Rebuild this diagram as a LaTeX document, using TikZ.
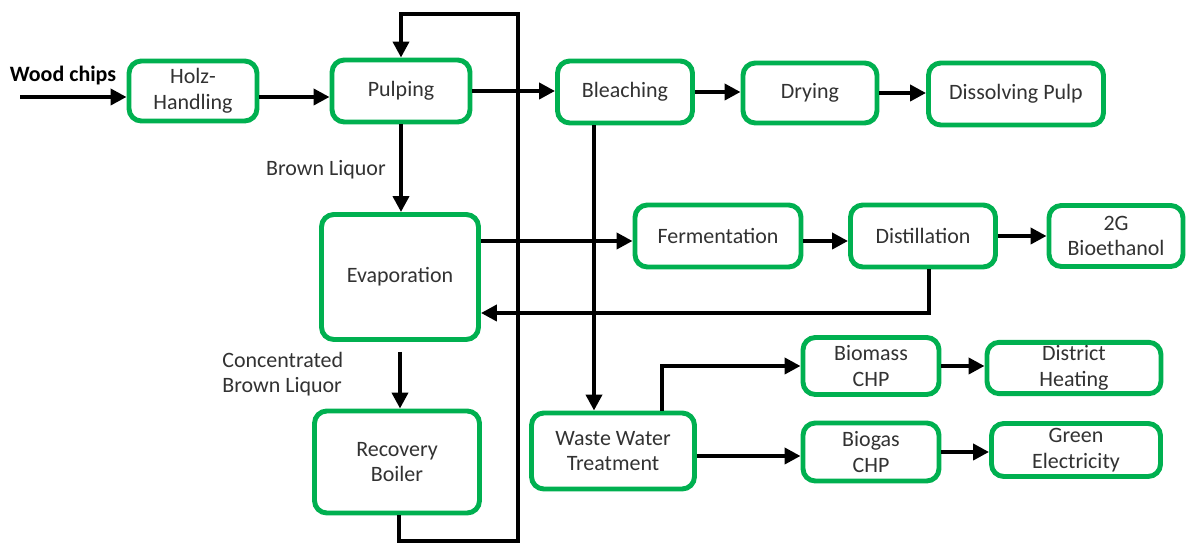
\documentclass[tikz,border=0pt]{standalone}
\usepackage{fontspec}
\setmainfont{Carlito}
\usetikzlibrary{arrows.meta,calc}
\definecolor{boxgreen}{RGB}{0,176,80}
\definecolor{txt}{RGB}{50,50,50}
\begin{document}
\begin{tikzpicture}[x=0.02cm,y=-0.02cm,
  box/.style={draw=boxgreen,line width=2.8pt,rounded corners=7pt,fill=white,
    align=center,text=txt,font=\fontsize{12.5}{14.5}\selectfont,inner sep=2pt},
  flow/.style={line width=2.2pt,-{Triangle[length=9pt,width=9pt]}},
  plain/.style={line width=2.2pt},
  lbl/.style={text=txt,font=\fontsize{12.5}{14.5}\selectfont,inner sep=0pt}]
\useasboundingbox (0,0) rectangle (1188,543);
% boxes
\node[box,minimum width=128*0.02cm,minimum height=60*0.02cm] (holz) at (193,91) {Holz-\\Handling};
\node[box,minimum width=138*0.02cm,minimum height=62*0.02cm] (pulp) at (401,91) {Pulping};
\node[box,minimum width=135*0.02cm,minimum height=62*0.02cm] (bleach) at (625,92) {Bleaching};
\node[box,minimum width=134*0.02cm,minimum height=60*0.02cm] (dry) at (810,93) {Drying};
\node[box,minimum width=175*0.02cm,minimum height=62*0.02cm] (dis) at (1016,94) {Dissolving Pulp};
\node[box,minimum width=157*0.02cm,minimum height=125*0.02cm] (evap) at (400,277) {Evaporation};
\node[box,minimum width=166*0.02cm,minimum height=62*0.02cm] (ferm) at (718,236) {Fermentation};
\node[box,minimum width=145*0.02cm,minimum height=62*0.02cm] (dist) at (923,236) {Distillation};
\node[box,minimum width=134*0.02cm,minimum height=61*0.02cm] (bioeth) at (1116,236) {2G\\Bioethanol};
\node[box,minimum width=165*0.02cm,minimum height=102*0.02cm] (rb) at (397,462) {Recovery\\Boiler};
\node[box,minimum width=163*0.02cm,minimum height=76*0.02cm] (wwt) at (613,451) {Waste Water\\Treatment};
\node[box,minimum width=136*0.02cm,minimum height=57*0.02cm] (bmchp) at (871,366) {Biomass\\CHP};
\node[box,minimum width=174*0.02cm,minimum height=51*0.02cm] (dh) at (1074,368) {District\\Heating};
\node[box,minimum width=136*0.02cm,minimum height=58*0.02cm] (bgchp) at (871,452) {Biogas\\CHP};
\node[box,minimum width=169*0.02cm,minimum height=53*0.02cm] (ge) at (1076,450) {Green\\Electricity};
% labels
\node[font=\bfseries\fontsize{12.5}{14.5}\selectfont,inner sep=0pt] (wclbl) at (63,76) {Wood chips};
\node[lbl] (bllbl) at (326,170) {Brown Liquor};
\node[lbl,align=left,anchor=west] (cbl) at (222,374) {Concentrated\\Brown Liquor};
% coordinates
\coordinate (wc) at (20,97);
\coordinate (loopB) at (518,541);
\coordinate (loopT) at (518,14);
% connectors
\draw[flow] (wc) -- (wc -| holz.west);
\draw[flow] ([yshift=-6*0.02cm]holz.east) -- ([yshift=-6*0.02cm]holz.east -| pulp.west);
\draw[flow] (pulp.east) -- (pulp.east -| bleach.west);
\draw[flow] (bleach.east) -- (bleach.east -| dry.west);
\draw[flow] (dry.east) -- (dry.east -| dis.west);
\draw[flow] (pulp.south) -- (pulp.south |- evap.north);
\draw[flow] ([xshift=2*0.02cm]rb.south) |- (loopB) -- (loopT) -| (pulp.north);
\draw[flow] ([xshift=-31*0.02cm]bleach.south) -- ([xshift=-31*0.02cm]bleach.south |- wwt.north);
\draw[flow] ([yshift=36*0.02cm]evap.east) -- ([yshift=36*0.02cm]evap.east -| ferm.west);
\draw[flow] ([yshift=-5*0.02cm]ferm.east) -- ([yshift=-5*0.02cm]ferm.east -| dist.west);
\draw[flow] (dist.east) -- (dist.east -| bioeth.west);
\draw[flow] ([xshift=6*0.02cm]dist.south) |- ([yshift=-36*0.02cm]evap.east);
\draw[flow] ([yshift=-10*0.02cm]evap.south) -- (evap.south |- rb.north);
\draw[flow] ([xshift=49*0.02cm]wwt.north) |- (bmchp.west);
\draw[flow] ([yshift=-5*0.02cm]wwt.east) -- ([yshift=-5*0.02cm]wwt.east -| bgchp.west);
\draw[flow] (bmchp.east) -- (bmchp.east -| dh.west);
\draw[flow] (bgchp.east) -- (bgchp.east -| ge.west);
\end{tikzpicture}
\end{document}
